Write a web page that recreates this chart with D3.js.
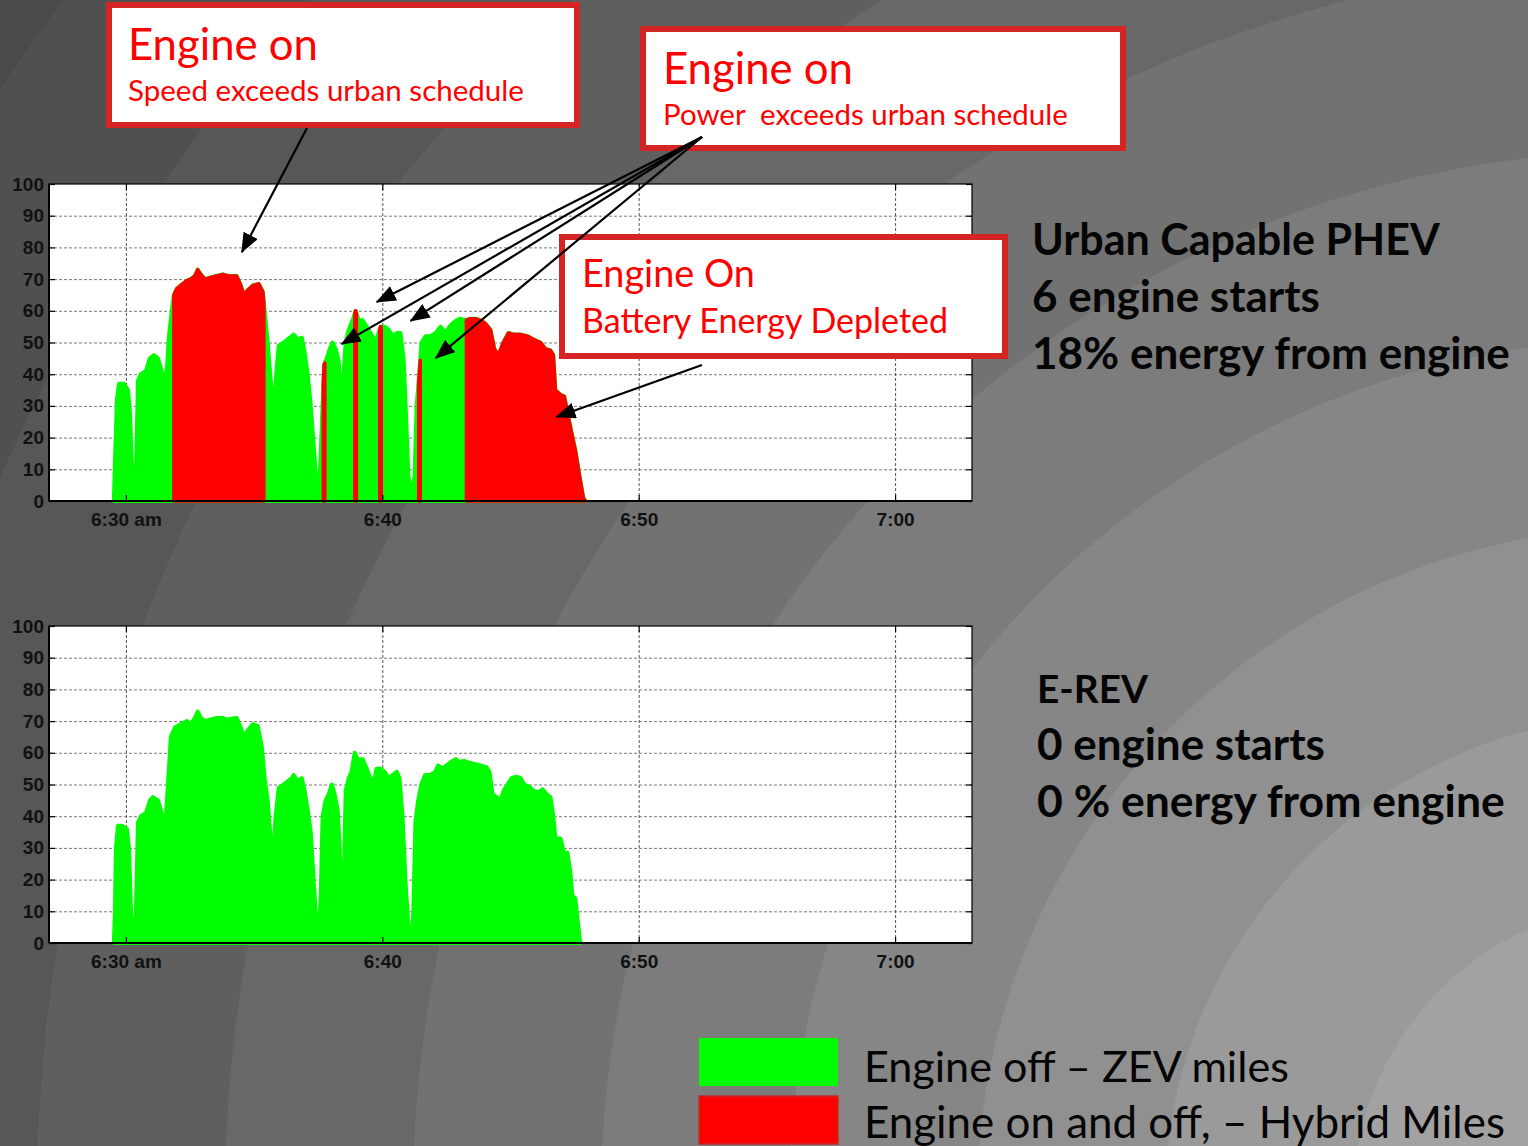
<!DOCTYPE html>
<html>
<head>
<meta charset="utf-8">
<script src="https://cdn.jsdelivr.net/npm/d3@7"></script>
<style>
  html, body { margin: 0; padding: 0; background: #666; }
  svg { display: block; }
  .axis path { display: none; }
  .axis line { stroke: #000; stroke-width: 1.2; }
  .axis text { font-family: "Liberation Sans", Arial, sans-serif; font-weight: bold; font-size: 19px; fill: #111; }
  .grid path { display: none; }
  .grid line { stroke: #7a7a7a; stroke-width: 1; stroke-dasharray: 3,2; }
  .note { font-family: Lato, "Open Sans", sans-serif; fill: #f00; white-space: pre; }
  .summary { font-family: Lato, "Open Sans", sans-serif; font-weight: bold; fill: #050505; }
  .legend text { font-family: Lato, "Open Sans", sans-serif; fill: #050505; }
</style>
</head>
<body>
<div class="graphic"></div>
<script>
// speed traces: [minutes after 6:00, mph]
var phevTrace = [
  [29.53,0],[29.57,12],[29.65,32],[29.73,37],[29.92,37],[30.08,35],[30.16,28],[30.23,12],[30.31,2],[30.39,8],
  [30.47,38],[30.58,40],[30.78,41],[30.93,45],[31.09,46],[31.25,45],[31.36,42],[31.48,38],[31.60,42],[31.68,52],
  [31.79,60],[31.87,65],[31.99,67],[32.14,68],[32.38,69.5],[32.53,70],[32.69,71],[32.80,73],[32.92,71.5],[33.08,70],
  [33.31,70.5],[33.54,71],[33.78,71.5],[34.01,71],[34.32,71],[34.48,68],[34.60,65],[34.75,66.5],[34.95,68],[35.18,68.5],
  [35.34,66],[35.41,60],[35.53,50],[35.65,38],[35.77,27],[35.88,42],[35.96,49],[36.16,50],[36.31,51],[36.47,52],
  [36.54,52.5],[36.70,51],[36.86,51.5],[36.97,47],[37.09,40],[37.21,30],[37.32,18],[37.44,4],[37.52,1],[37.60,15],
  [37.73,43],[37.84,45],[37.95,48],[38.06,50],[38.18,48],[38.30,44],[38.41,30],[38.49,40],[38.57,50],[38.69,54],
  [38.84,57],[38.96,60],[39.08,57],[39.23,57],[39.39,55],[39.54,53],[39.74,50],[39.93,55],[40.09,55],[40.25,54],
  [40.40,52],[40.56,53],[40.71,53],[40.83,45],[40.91,30],[41.02,8],[41.14,1],[41.26,8],[41.34,30],[41.45,41],
  [41.53,50],[41.69,52],[41.88,52],[42.08,53],[42.27,55],[42.47,53],[42.62,55],[42.74,56],[42.89,57],[43.05,57.5],
  [43.24,57],[43.44,57.5],[43.63,57.5],[43.83,57],[44.02,56],[44.22,54],[44.37,48],[44.53,46],[44.72,50],[44.92,53],
  [45.15,52.5],[45.39,52.5],[45.66,52],[45.89,51],[46.17,50],[46.36,48],[46.56,47.5],[46.67,46],[46.75,35],[46.95,33.5],
  [47.10,33],[47.22,28],[47.37,22],[47.53,16],[47.69,8],[47.84,1],[47.92,0]
];

var erevTrace = [
  [29.53,0],[29.57,10],[29.61,30],[29.69,37],[29.84,37],[30.04,36],[30.12,30],[30.19,12],[30.23,5],[30.31,2],
  [30.39,10],[30.47,38],[30.58,40],[30.78,41],[30.94,45],[31.05,46],[31.25,45],[31.36,42],[31.48,38],[31.56,40],
  [31.64,50],[31.75,65],[31.91,68],[32.14,69],[32.38,70],[32.53,69],[32.69,71],[32.80,73],[32.92,71],[33.08,70],
  [33.31,70.5],[33.54,71],[33.78,71],[33.93,70.5],[34.32,71],[34.48,68],[34.60,65],[34.75,67],[34.95,69],[35.14,68.5],
  [35.30,62],[35.41,52],[35.53,45],[35.65,32],[35.73,27],[35.84,40],[35.96,49],[36.16,50],[36.31,51],[36.47,52],
  [36.54,53],[36.70,51],[36.86,52],[36.97,48],[37.09,42],[37.21,35],[37.32,20],[37.44,5],[37.52,1],[37.60,15],
  [37.67,40],[37.79,45],[37.91,47],[38.03,50],[38.14,47],[38.26,42],[38.34,30],[38.42,8],[38.49,15],[38.57,48],
  [38.69,52],[38.80,54],[38.92,60],[39.04,58],[39.23,58],[39.39,55],[39.54,52],[39.66,50],[39.77,55],[39.93,55],
  [40.09,54],[40.25,52],[40.40,53],[40.56,54],[40.67,52],[40.79,40],[40.90,20],[41.02,5],[41.14,1],[41.21,10],
  [41.29,38],[41.40,45],[41.52,50],[41.67,53],[41.87,53],[42.06,54],[42.18,56],[42.35,55],[42.50,56],[42.66,57],
  [42.86,58],[43.01,57],[43.17,57.5],[43.36,57],[43.59,56.5],[43.83,56],[44.06,55.5],[44.18,54],[44.30,47],[44.46,46],
  [44.61,45],[44.73,48],[44.88,50],[45.04,52],[45.23,52.5],[45.39,52],[45.54,50],[45.70,49.5],[45.90,48],[46.09,47.5],
  [46.25,48.5],[46.40,47],[46.56,46],[46.67,40],[46.75,33],[46.95,33],[47.10,28],[47.22,28.5],[47.34,22],[47.41,15],
  [47.53,14],[47.61,8],[47.72,0]
];

// engine on periods for the PHEV, [start, end] in minutes after 6:00
var phevEngineOn = [[31.87,35.38],[37.70,37.76],[38.93,38.99],[39.90,39.96],[41.42,41.48],[43.28,47.92]];

var speedTicks = [0,10,20,30,40,50,60,70,80,90,100];
var timeTicks = [30,40,50,60];
var timeLabels = ["6:30 am","6:40","6:50","7:00"];

var noteTitles = ["Engine on","Engine on","Engine On"];
var noteDetails = ["Speed exceeds urban schedule","Power  exceeds urban schedule","Battery Energy Depleted"];

// arrow tips in chart units [minutes, mph], one group per note
var noteArrows = [
  [[34.52,78.5]],
  [[39.78,62.8],[38.41,49.5],[41.10,56.8],[42.08,45.1]],
  [[46.79,26.5]]
];

var phevSummary = ["Urban Capable PHEV","6 engine starts","18% energy from engine"];
var erevSummary = ["E-REV","0 engine starts","0 % energy from engine"];

var legendLabels = ["Engine off \u2013 ZEV miles","Engine on and off, \u2013 Hybrid Miles"];
var legendColors = ["#00ff00","#ff0000"];

var green = "#00ff00", red = "#ff0000";

var width = 1528, height = 1146;
var svg = d3.select(".graphic").append("svg").attr("width", width).attr("height", height);
var defs = svg.append("defs");

// banded grey background
var bandEdges = [0,109,297,485,673,861,1049,1237,1425,1613,1801,1989,2300];
var bandGreys = [170,162,154,144,134,124,114,104,95,87,80,74];
var bg = defs.append("radialGradient").attr("id","bg")
  .attr("gradientUnits","userSpaceOnUse").attr("cx",1650).attr("cy",1200).attr("r",2300);
bandGreys.forEach(function(gv, i) {
  var c = d3.rgb(gv, gv, gv).toString();
  bg.append("stop").attr("offset", bandEdges[i] / 2300).attr("stop-color", c);
  bg.append("stop").attr("offset", bandEdges[i + 1] / 2300).attr("stop-color", c);
});
svg.append("rect").attr("width", width).attr("height", height).attr("fill","url(#bg)");

defs.append("marker").attr("id","head")
  .attr("viewBox","0 0 20 16").attr("refX",19).attr("refY",8)
  .attr("markerWidth",20).attr("markerHeight",16).attr("markerUnits","userSpaceOnUse")
  .attr("orient","auto")
  .append("path").attr("d","M0,0L20,8L0,16Z").attr("fill","#000");

var x = d3.scaleLinear().domain([27,63]).range([49,972]);

function speedAt(trace, t) {
  var i = d3.bisector(function(d) { return d[0]; }).left(trace, t);
  if (i <= 0) return trace[0][1];
  if (i >= trace.length) return trace[trace.length - 1][1];
  var a = trace[i - 1], b = trace[i];
  return a[1] + (b[1] - a[1]) * (t - a[0]) / (b[0] - a[0]);
}

function slice(trace, t0, t1) {
  var inside = trace.filter(function(d) { return d[0] > t0 && d[0] < t1; });
  return [[t0, speedAt(trace, t0)]].concat(inside, [[t1, speedAt(trace, t1)]]);
}

function drawChart(top, trace, onRanges) {
  var bottom = top + 317;
  var y = d3.scaleLinear().domain([0,100]).range([bottom, top]);
  var g = svg.append("g");

  g.append("rect").attr("x", x.range()[0]).attr("y", top)
    .attr("width", x.range()[1] - x.range()[0]).attr("height", bottom - top).attr("fill","#fff");

  g.append("g").attr("class","grid").attr("transform","translate(" + x.range()[0] + ",0)")
    .call(d3.axisLeft(y).tickValues(speedTicks.slice(1, -1)).tickSize(-(x.range()[1] - x.range()[0])).tickFormat(""));
  g.append("g").attr("class","grid").attr("transform","translate(0," + bottom + ")")
    .call(d3.axisBottom(x).tickValues(timeTicks).tickSize(-(bottom - top)).tickFormat(""))
    .selectAll("line").style("stroke","#555");

  var area = d3.area()
    .x(function(d) { return x(d[0]); })
    .y0(y(0))
    .y1(function(d) { return y(d[1]); });

  g.append("path").datum(trace).attr("d", area)
    .attr("fill", green).attr("stroke", green).attr("stroke-width", 4).attr("stroke-linejoin","round");

  g.selectAll(".on").data(onRanges).enter().append("path")
    .attr("class","on")
    .attr("d", function(r) { return area(slice(trace, r[0], r[1])); })
    .attr("fill", red).attr("stroke", red).attr("stroke-width", 3.5).attr("stroke-linejoin","round");

  g.append("rect").attr("x", x.range()[0]).attr("y", top)
    .attr("width", x.range()[1] - x.range()[0]).attr("height", bottom - top)
    .attr("fill","none").attr("stroke","#000").attr("stroke-width",1.2);
  g.append("line").attr("x1", x.range()[0]).attr("x2", x.range()[1]).attr("y1", bottom).attr("y2", bottom)
    .attr("stroke","#000").attr("stroke-width",2);
  g.append("line").attr("x1", x.range()[0]).attr("x2", x.range()[0]).attr("y1", top).attr("y2", bottom)
    .attr("stroke","#000").attr("stroke-width",2);

  g.append("g").attr("class","axis").attr("transform","translate(" + x.range()[0] + ",0)")
    .call(d3.axisLeft(y).tickValues(speedTicks).tickSize(-6).tickPadding(5));
  g.append("g").attr("class","axis").attr("transform","translate(" + x.range()[1] + ",0)")
    .call(d3.axisRight(y).tickValues(speedTicks).tickSize(-6).tickFormat(""));
  g.append("g").attr("class","axis").attr("transform","translate(0," + bottom + ")")
    .call(d3.axisBottom(x).tickValues(timeTicks).tickSize(-6).tickPadding(12)
      .tickFormat(function(d, i) { return timeLabels[i]; }));
  g.append("g").attr("class","axis").attr("transform","translate(0," + top + ")")
    .call(d3.axisTop(x).tickValues(timeTicks).tickSize(-6).tickFormat(""));

  return y;
}

function fitText(sel, w) {
  sel.each(function() {
    var len = this.getComputedTextLength();
    var fs = parseFloat(d3.select(this).style("font-size"));
    d3.select(this).style("font-size", (fs * w / len) + "px");
  });
}

var yTop = drawChart(184, phevTrace, phevEngineOn);
drawChart(626, erevTrace, []);

// annotation boxes
var boxes = [
  { x: 109, y: 5, w: 468, h: 120, tx: 128, t1: 60, w1: 190, t2: 101, w2: 396, from: [307,128] },
  { x: 643, y: 29, w: 480, h: 119, tx: 663, t1: 84, w1: 190, t2: 125, w2: 405, from: [702,137] },
  { x: 562, y: 237, w: 443, h: 119, tx: 582, t1: 287, w1: 173, t2: 333, w2: 366, from: [702,365] }
];

boxes.forEach(function(b, i) {
  var g = svg.append("g");
  g.append("rect").attr("x", b.x).attr("y", b.y).attr("width", b.w).attr("height", b.h)
    .attr("fill","#fff").attr("stroke","#d42424").attr("stroke-width",6);
  g.append("text").attr("class","note").attr("x", b.tx).attr("y", b.t1)
    .style("font-size","44px").text(noteTitles[i]).call(fitText, b.w1);
  g.append("text").attr("class","note").attr("x", b.tx).attr("y", b.t2)
    .attr("xml:space","preserve")
    .style("font-size","28px").text(noteDetails[i]).call(fitText, b.w2);
});

boxes.forEach(function(b, i) {
  svg.append("g").selectAll("line").data(noteArrows[i]).enter().append("line")
    .attr("x1", b.from[0]).attr("y1", b.from[1])
    .attr("x2", function(d) { return x(d[0]); })
    .attr("y2", function(d) { return yTop(d[1]); })
    .attr("stroke","#000").attr("stroke-width",2.2)
    .attr("marker-end","url(#head)");
});

// summaries on the right
svg.append("g").selectAll("text").data(phevSummary).enter().append("text")
  .attr("class","summary").attr("x",1032).attr("y", function(d, i) { return 255 + i * 57; })
  .style("font-size","40px").text(function(d) { return d; })
  .each(function(d, i) { d3.select(this).call(fitText, [408, 288, 478][i]); });

svg.append("g").selectAll("text").data(erevSummary).enter().append("text")
  .attr("class","summary").attr("x",1037).attr("y", function(d, i) { return 703 + i * 57; })
  .style("font-size","40px").text(function(d) { return d; })
  .each(function(d, i) { d3.select(this).call(fitText, [111, 288, 468][i]); });

// legend
var legend = svg.append("g").attr("class","legend");
legend.selectAll("rect").data(legendColors).enter().append("rect")
  .attr("x",699).attr("y", function(d, i) { return 1038 + i * 58; })
  .attr("width",139).attr("height",48)
  .attr("fill", function(d) { return d; })
  .attr("stroke", function(d, i) { return i ? "#c82828" : "none"; }).attr("stroke-width",1.5);
legend.selectAll("text").data(legendLabels).enter().append("text")
  .attr("x", 864).attr("y", function(d, i) { return 1082 + i * 56; })
  .style("font-size","44px").text(function(d) { return d; })
  .each(function(d, i) { d3.select(this).call(fitText, [425, 641][i]); });
</script>
</body>
</html>
